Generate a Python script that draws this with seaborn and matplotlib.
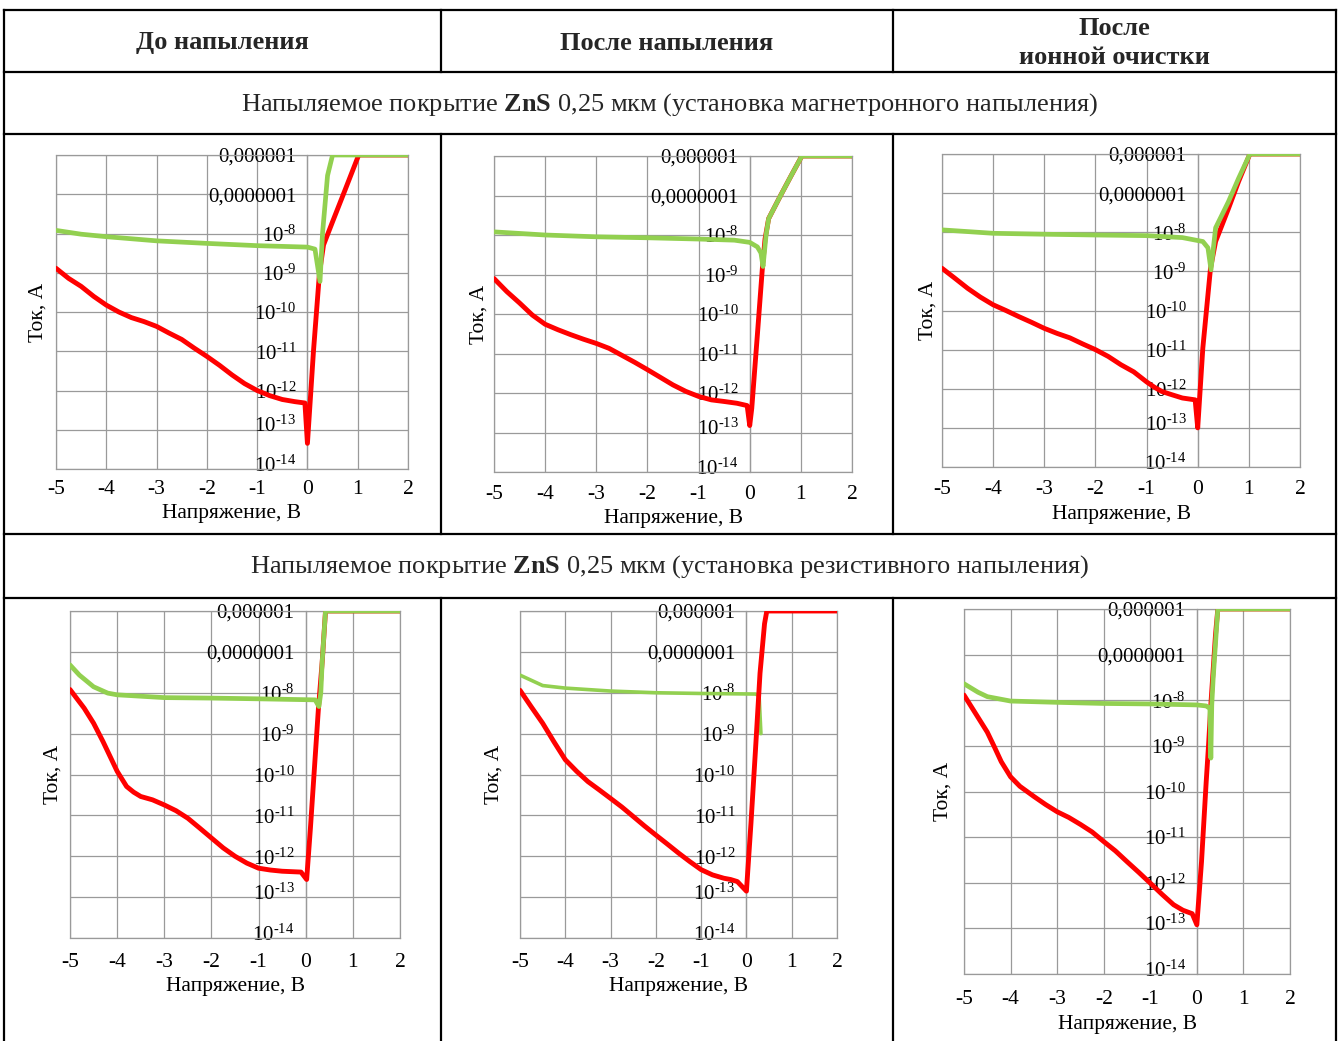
import numpy as np
import pandas as pd
import seaborn as sns
import matplotlib.pyplot as plt
from matplotlib.lines import Line2D
from matplotlib.ticker import NullLocator
from matplotlib.transforms import ScaledTranslation

# ---- data (voltage in V, current in A) ----
# top row: magnetron sputtering
v_red_1 = [-5.0, -4.75, -4.5, -4.25, -4.0, -3.75, -3.5, -3.25, -3.0, -2.75, -2.5, -2.25, -2.0, -1.75, -1.5,
           -1.25, -1.0, -0.75, -0.5, -0.25, -0.05, 0.0, 0.12, 0.24, 0.32, 0.5, 0.75, 1.02, 2.0]
i_red_1 = [1.3e-9, 7.2e-10, 4.5e-10, 2.5e-10, 1.5e-10, 1.0e-10, 7.2e-11, 5.7e-11, 4.3e-11, 2.9e-11, 2.0e-11,
           1.2e-11, 7.4e-12, 4.4e-12, 2.5e-12, 1.5e-12, 1.0e-12, 7.4e-13, 5.9e-13, 5.2e-13, 4.8e-13, 4.5e-14,
           1.0e-11, 1.0e-9, 5.1e-9, 2.0e-8, 1.3e-7, 1.0e-6, 1.0e-6]
v_green_1 = [-5.0, -4.5, -4.0, -3.0, -2.0, -1.0, 0.0, 0.15, 0.25, 0.3, 0.4, 0.5, 2.0]
i_green_1 = [1.2e-8, 9.6e-9, 8.3e-9, 6.5e-9, 5.6e-9, 4.9e-9, 4.5e-9, 4.0e-9, 6.0e-10, 1.0e-8, 3.0e-7, 1.0e-6, 1.0e-6]

v_red_2 = [-5.0, -4.75, -4.5, -4.25, -4.0, -3.75, -3.5, -3.25, -3.0, -2.75, -2.5, -2.25, -2.0, -1.75, -1.5,
           -1.25, -1.0, -0.75, -0.5, -0.25, -0.05, 0.0, 0.04, 0.15, 0.25, 0.3, 0.37, 0.6, 0.8, 1.02, 2.0]
i_red_2 = [7.9e-10, 3.7e-10, 1.9e-10, 9.4e-11, 5.5e-11, 4.0e-11, 3.0e-11, 2.3e-11, 1.8e-11, 1.35e-11, 9.0e-12,
           6.0e-12, 3.9e-12, 2.5e-12, 1.6e-12, 1.1e-12, 8.2e-13, 6.7e-13, 6.1e-13, 5.5e-13, 4.8e-13, 1.5e-13,
           4.1e-13, 3.0e-11, 1.6e-9, 8.0e-9, 2.6e-8, 9.8e-8, 3.0e-7, 1.0e-6, 1.0e-6]
v_green_2 = [-5.0, -4.0, -3.0, -2.0, -1.0, -0.3, 0.0, 0.15, 0.22, 0.26, 0.32, 0.37, 0.6, 0.8, 1.02, 2.0]
i_green_2 = [1.2e-8, 1.0e-8, 9.0e-9, 8.5e-9, 7.9e-9, 7.4e-9, 6.5e-9, 5.0e-9, 3.5e-9, 1.6e-9, 1.0e-8, 2.6e-8,
             9.8e-8, 3.0e-7, 1.0e-6, 1.0e-6]

v_red_3 = [-5.0, -4.75, -4.5, -4.25, -4.0, -3.75, -3.5, -3.25, -3.0, -2.75, -2.5, -2.25, -2.0, -1.75, -1.5,
           -1.25, -1.0, -0.85, -0.7, -0.5, -0.3, -0.05, 0.0, 0.1, 0.25, 0.35, 0.6, 0.8, 1.02, 2.0]
i_red_3 = [1.2e-9, 6.7e-10, 3.7e-10, 2.2e-10, 1.4e-10, 1.0e-10, 7.0e-11, 5.0e-11, 3.5e-11, 2.6e-11, 2.0e-11,
           1.4e-11, 1.0e-11, 6.7e-12, 4.1e-12, 2.7e-12, 1.5e-12, 1.1e-12, 8.5e-13, 7.0e-13, 5.8e-13, 5.2e-13,
           1.0e-13, 1.1e-11, 1.2e-9, 5.8e-9, 4.0e-8, 2.0e-7, 1.0e-6, 1.0e-6]
v_green_3 = [-5.0, -4.0, -3.0, -2.0, -1.0, -0.3, 0.1, 0.2, 0.26, 0.35, 0.6, 0.8, 1.02, 2.0]
i_green_3 = [1.15e-8, 9.4e-9, 8.9e-9, 8.5e-9, 8.2e-9, 7.3e-9, 5.8e-9, 4.0e-9, 1.1e-9, 1.3e-8, 6.0e-8, 2.4e-7,
             1.0e-6, 1.0e-6]

# bottom row: resistive evaporation
v_red_4 = [-5.0, -4.7, -4.5, -4.3, -4.0, -3.8, -3.65, -3.5, -3.25, -3.0, -2.75, -2.5, -2.25, -2.0, -1.75, -1.5,
           -1.25, -1.0, -0.75, -0.5, -0.1, 0.02, 0.1, 0.2, 0.27, 0.35, 0.42, 2.0]
i_red_4 = [1.2e-8, 4.2e-9, 1.8e-9, 6.4e-10, 1.2e-10, 5.1e-11, 3.7e-11, 2.9e-11, 2.4e-11, 1.8e-11, 1.3e-11, 8.5e-12,
           4.9e-12, 2.8e-12, 1.6e-12, 1.0e-12, 6.8e-13, 5.1e-13, 4.6e-13, 4.3e-13, 4.1e-13, 2.7e-13, 4.9e-12,
           2.6e-10, 4.2e-9, 5.8e-8, 1.0e-6, 1.0e-6]
v_green_4 = [-5.0, -4.8, -4.5, -4.2, -4.0, -3.0, -2.0, -1.0, 0.2, 0.28, 0.32, 0.35, 0.42, 2.0]
i_green_4 = [4.8e-8, 2.7e-8, 1.4e-8, 9.8e-9, 8.9e-9, 7.6e-9, 7.4e-9, 7.1e-9, 6.7e-9, 4.6e-9, 1.0e-8, 5.8e-8,
             1.0e-6, 1.0e-6]

v_red_5 = [-5.0, -4.75, -4.5, -4.25, -4.0, -3.75, -3.5, -3.25, -3.0, -2.75, -2.5, -2.25, -2.0, -1.75, -1.5,
           -1.25, -1.0, -0.75, -0.5, -0.35, -0.2, 0.0, 0.1, 0.2, 0.3, 0.4, 0.45, 2.0]
i_red_5 = [1.15e-8, 4.5e-9, 1.8e-9, 6.3e-10, 2.3e-10, 1.2e-10, 6.7e-11, 4.2e-11, 2.6e-11, 1.6e-11, 9.4e-12,
           5.5e-12, 3.3e-12, 2.0e-12, 1.2e-12, 7.4e-13, 4.7e-13, 3.5e-13, 2.9e-13, 2.7e-13, 2.4e-13, 1.4e-13,
           6.4e-12, 4.0e-10, 3.0e-8, 4.9e-7, 1.0e-6, 1.0e-6]
v_green_5 = [-5.0, -4.7, -4.5, -4.0, -3.0, -2.0, -1.0, 0.2, 0.28, 0.32]
i_green_5 = [2.7e-8, 1.9e-8, 1.5e-8, 1.3e-8, 1.1e-8, 1.0e-8, 9.6e-9, 9.3e-9, 8.5e-9, 1.0e-9]

v_red_6 = [-5.0, -4.75, -4.5, -4.35, -4.2, -4.0, -3.8, -3.5, -3.25, -3.0, -2.75, -2.5, -2.25, -2.0, -1.75, -1.5,
           -1.25, -1.0, -0.75, -0.5, -0.3, -0.1, 0.0, 0.1, 0.2, 0.25, 0.3, 0.4, 0.45, 2.0]
i_red_6 = [1.3e-8, 5.1e-9, 2.0e-9, 9.6e-10, 4.5e-10, 2.1e-10, 1.3e-10, 7.8e-11, 5.2e-11, 3.6e-11, 2.7e-11,
           1.9e-11, 1.3e-11, 8.0e-12, 5.0e-12, 2.9e-12, 1.7e-12, 9.8e-13, 5.6e-13, 3.3e-13, 2.5e-13, 2.1e-13,
           1.2e-13, 2.9e-12, 1.6e-10, 1.0e-9, 7.9e-9, 2.7e-7, 1.0e-6, 1.0e-6]
v_green_6 = [-5.0, -4.7, -4.5, -4.0, -3.0, -2.0, -1.0, 0.0, 0.2, 0.28, 0.3, 0.32, 0.35, 0.45, 2.0]
i_green_6 = [2.3e-8, 1.5e-8, 1.2e-8, 9.6e-9, 9.0e-9, 8.5e-9, 8.3e-9, 7.9e-9, 7.5e-9, 6.6e-9, 5.4e-10, 7.9e-9,
             3.0e-8, 1.0e-6, 1.0e-6]

x_ticks = [-5, -4, -3, -2, -1, 0, 1, 2]
x_tick_labels = ['-5', '-4', '-3', '-2', '-1', '0', '1', '2']
y_ticks = [1e-6, 1e-7, 1e-8, 1e-9, 1e-10, 1e-11, 1e-12, 1e-13, 1e-14]
y_tick_labels = ['0,000001', '0,0000001', '$10^{\u20108}$', '$10^{\u20109}$', '$10^{\u201010}$',
                 '$10^{\u201011}$', '$10^{\u201012}$', '$10^{\u201013}$', '$10^{\u201014}$']

col_titles = ['До напыления', 'После напыления', 'После\nионной очистки']
row_titles = [r'Напыляемое покрытие $\mathbf{ZnS}$ 0,25 мкм (установка магнетронного напыления)',
              r'Напыляемое покрытие $\mathbf{ZnS}$ 0,25 мкм (установка резистивного напыления)']

RED = '#ff0000'
GREEN = '#92d050'
GRID = '#9a9a9a'

sns.set_theme(style='white')
plt.rcParams['font.family'] = ['Liberation Serif', 'DejaVu Serif']
plt.rcParams['mathtext.fontset'] = 'custom'
plt.rcParams['mathtext.rm'] = 'Liberation Serif'
plt.rcParams['mathtext.it'] = 'Liberation Serif:italic'
plt.rcParams['mathtext.bf'] = 'Liberation Serif:bold'
plt.rcParams['axes.unicode_minus'] = False

W, H = 1339, 1041
fig = plt.figure(figsize=(W / 100, H / 100), dpi=100)
fig.patch.set_facecolor('white')

# panel boxes in pixels: left, top, right, bottom
boxes = [(56, 155, 408, 469), (494, 156, 852, 472), (942, 154, 1300, 467),
         (70, 611, 400, 938), (520, 611, 837, 938), (964, 609, 1290, 974)]
ylab_x = [37, 478, 927, 52, 493, 942]
xlab_y = [512, 517, 513, 985, 985, 1023]
xtick_pad = [4.2, 5.6, 5.6, 7.0, 7.0, 7.8]
green_lw = [3.4, 3.4, 3.4, 3.4, 2.6, 3.4]

panels = [(v_red_1, i_red_1, v_green_1, i_green_1, False),
          (v_red_2, i_red_2, v_green_2, i_green_2, False),
          (v_red_3, i_red_3, v_green_3, i_green_3, False),
          (v_red_4, i_red_4, v_green_4, i_green_4, False),
          (v_red_5, i_red_5, v_green_5, i_green_5, True),
          (v_red_6, i_red_6, v_green_6, i_green_6, False)]

for (vr, ir, vg, ig, red_top), (l, t, r, b), yx, xy, xp, glw in zip(panels, boxes, ylab_x, xlab_y,
                                                                    xtick_pad, green_lw):
    ax = fig.add_axes([l / W, 1 - b / H, (r - l) / W, (b - t) / H])
    ax.set_yscale('log')
    zr, zg = (4, 3) if red_top else (3, 4)
    sns.lineplot(x=vr, y=ir, ax=ax, color=RED, lw=3.5, sort=False, estimator=None, zorder=zr)
    sns.lineplot(x=vg, y=ig, ax=ax, color=GREEN, lw=glw, sort=False, estimator=None, zorder=zg)
    ax.set_xlim(-5, 2)
    ax.set_ylim(1e-14, 1e-6)
    ax.set_xticks(x_ticks, labels=x_tick_labels)
    ax.set_yticks(y_ticks, labels=y_tick_labels)
    ax.yaxis.set_minor_locator(NullLocator())
    ax.grid(True, color=GRID, lw=0.9)
    for s in ax.spines.values():
        s.set_visible(True)
        s.set_color(GRID)
        s.set_linewidth(0.9)
    ax.spines['left'].set_position(('data', 0))
    ax.axvline(-5, color=GRID, lw=0.9, clip_on=False, zorder=1)
    ax.tick_params(axis='x', length=4, width=0.9, color=GRID, labelsize=15.5, pad=xp, labelcolor='black')
    ax.tick_params(axis='y', length=0, labelsize=15, pad=8, labelcolor='black')
    # the two lowest labels sit a little above their grid lines
    for lab in ax.get_yticklabels()[-2:]:
        lab.set_transform(lab.get_transform() + ScaledTranslation(0, 4 / 72, fig.dpi_scale_trans))
    ax.set_xlabel('Напряжение, В', fontsize=15.5, color='black')
    ax.xaxis.set_label_coords(0.5, -(xy - 8 - b) / (b - t))
    ax.set_ylabel('Ток, А', fontsize=15.5, color='black')
    ax.yaxis.set_label_coords((yx + 11 - l) / (r - l), 0.5)


def fx(px):
    return px / W


def fy(py):
    return 1 - py / H


def rule(x0, y0, x1, y1):
    fig.add_artist(Line2D([fx(x0), fx(x1)], [fy(y0), fy(y1)], color='black', lw=1.6,
                          transform=fig.transFigure, solid_capstyle='projecting'))


# table grid
for y in [10, 72, 134, 534, 598]:
    rule(4, y, 1336, y)
for x in [4, 1336]:
    rule(x, 10, x, 1041)
for x in [441, 893]:
    rule(x, 10, x, 72)
    rule(x, 134, x, 534)
    rule(x, 598, x, 1041)

for txt, cx in zip(col_titles, [222, 667, 1114]):
    fig.text(fx(cx), fy(43), txt, ha='center', va='center', fontsize=19,
             fontweight='bold', linespacing=1.3)
for txt, cy in zip(row_titles, [105, 567]):
    fig.text(fx(670), fy(cy), txt, ha='center', va='center', fontsize=19)

fig.savefig('out.png', dpi=100, facecolor='white')
